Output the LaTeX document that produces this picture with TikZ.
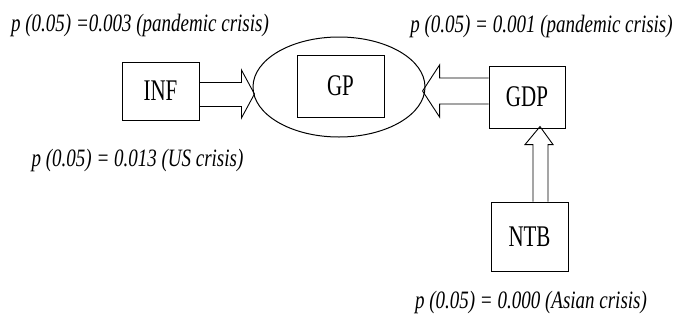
\documentclass[tikz,border=0pt]{standalone}
\usepackage{fontspec}
\setmainfont{Liberation Serif}
\newfontfamily\boxfont{Liberation Serif}[FakeStretch=0.7]
\newfontfamily\pfont{Liberation Serif}[FakeStretch=0.76]
\usetikzlibrary{calc, shapes.geometric}

\begin{document}
\begin{tikzpicture}[x=1pt,y=-1pt,
    var/.style={draw,line width=0.9pt,inner sep=0pt,font=\boxfont\fontsize{30}{30}\selectfont},
    pval/.style={inner sep=0pt,font=\pfont\itshape\fontsize{25}{28}\selectfont},
    fat/.style={draw,line width=0.9pt,line join=miter}]
    \useasboundingbox (0,0) rectangle (678,322);
    \node[draw,ellipse,line width=1pt,minimum width=172pt,minimum height=100pt] (ring) at (339,87) {};
    \node[var,minimum width=87pt,minimum height=62pt] (gp) at (340.5,86) {GP};
    \node[var,minimum width=77pt,minimum height=58pt] (inf) at (160.5,91) {INF};
    \node[var,minimum width=76pt,minimum height=62pt] (gdp) at (527,97) {GDP};
    \node[var,minimum width=77pt,minimum height=69pt] (ntb) at (529.5,236.5) {NTB};
    % hollow arrows
    \draw[fat] ($(inf.east)+(0,-8.5)$) -- ++(42,0) -- ++(0,-12.5) -- ($(inf.east)+(55,3)$) -- ($(inf.east)+(42,27)$) -- ++(0,-11.5) -- ($(inf.east)+(0,15.5)$);
    \draw[fat] ($(gdp.west)+(0,-19)$) -- ++(-49,0) -- ++(0,-13) -- ($(gdp.west)+(-66,-6)$) -- ($(gdp.west)+(-49,20)$) -- ++(0,-13) -- ($(gdp.west)+(0,7)$);
    \draw[fat] ($(ntb.north)+(3.5,0)$) -- ++(0,-57) -- ++(-8,0) -- ($(ntb.north)+(10.5,-75)$) -- ($(ntb.north)+(23.5,-57)$) -- ++(-5,0) -- ($(ntb.north)+(18.5,0)$);
    % p-values
    \node[pval] (pinf) at (140,25) {p (0.05) =0.003 (pandemic crisis)};
    \node[pval] (pgdp) at (541.5,26) {p (0.05) = 0.001 (pandemic crisis)};
    \node[pval] (pus) at (137.5,160) {p (0.05) = 0.013 (US crisis)};
    \node[pval] (pntb) at (531,302) {p (0.05) = 0.000 (Asian crisis)};
\end{tikzpicture}
\end{document}
